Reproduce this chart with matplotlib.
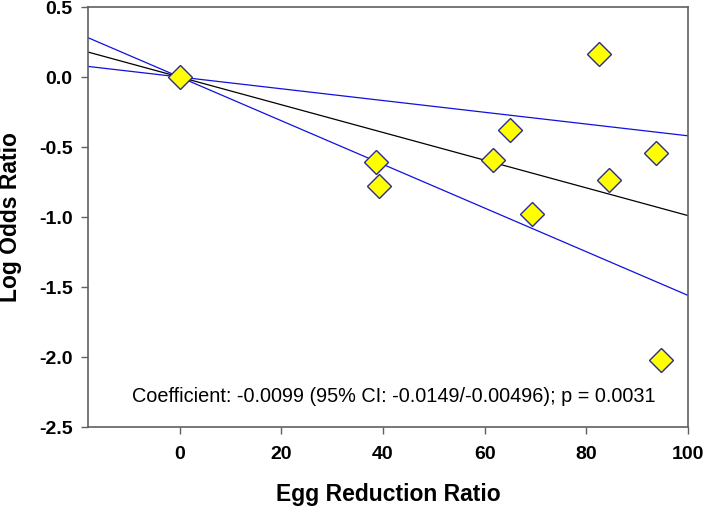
import matplotlib
matplotlib.use("Agg")
import matplotlib.pyplot as plt
import numpy as np

plt.rcParams['font.family'] = ['Liberation Sans', 'DejaVu Sans']

# Data
egg_reduction = [0.0, 38.6, 39.2, 61.7, 65.0, 69.3, 82.4, 84.5, 93.8, 94.6]
log_odds = [0.0, -0.61, -0.78, -0.59, -0.38, -0.98, 0.167, -0.736, -0.543, -2.02]

coef = -0.0099
upper_slope = -0.0042
lower_slope = -0.0156

x_ticks = [0, 20, 40, 60, 80, 100]
y_ticks = [0.5, 0.0, -0.5, -1.0, -1.5, -2.0, -2.5]
annotation = "Coefficient: -0.0099 (95% CI: -0.0149/-0.00496); p = 0.0031"

fig = plt.figure(figsize=(7.04, 5.08), dpi=100)
ax = fig.add_axes([88/704, 1-427/508, 600/704, 420/508])

xlim = (-18, 100)
xs = np.array(xlim)
ax.plot(xs, upper_slope * xs, color='#1010e0', lw=0.9, zorder=2)
ax.plot(xs, lower_slope * xs, color='#1010e0', lw=0.9, zorder=2)
ax.plot(xs, coef * xs, color='black', lw=0.9, zorder=2)

ax.plot(egg_reduction, log_odds, linestyle='none', marker='D', markersize=12,
        markerfacecolor='#ffff00', markeredgecolor='#2a2a9a', markeredgewidth=1.0,
        zorder=3)

ax.set_xlim(*xlim)
ax.set_ylim(-2.5, 0.5)
ax.set_xticks(x_ticks)
ax.set_yticks(y_ticks)
ax.set_xticklabels([str(t) for t in x_ticks])
ax.set_yticklabels([f"{t:.1f}" for t in y_ticks])

spine_col = '#606060'
for s in ax.spines.values():
    s.set_color(spine_col)
    s.set_linewidth(1.2)

ax.tick_params(axis='both', direction='out', length=5, width=1.0, color=spine_col,
               labelsize=14)
ax.tick_params(axis='x', pad=9)
ax.tick_params(axis='y', pad=6)
for lab in ax.get_xticklabels() + ax.get_yticklabels():
    lab.set_fontweight('bold')

ax.set_xlabel("Egg Reduction Ratio", fontsize=16.5, fontweight='bold', labelpad=14)
ax.set_ylabel("Log Odds Ratio", fontsize=16.5, fontweight='bold', labelpad=12)

ax.text(0.0733, 0.0595, annotation, transform=ax.transAxes, fontsize=14.35,
        ha='left', va='baseline', color='black')

fig.savefig("out.png", dpi=100)
